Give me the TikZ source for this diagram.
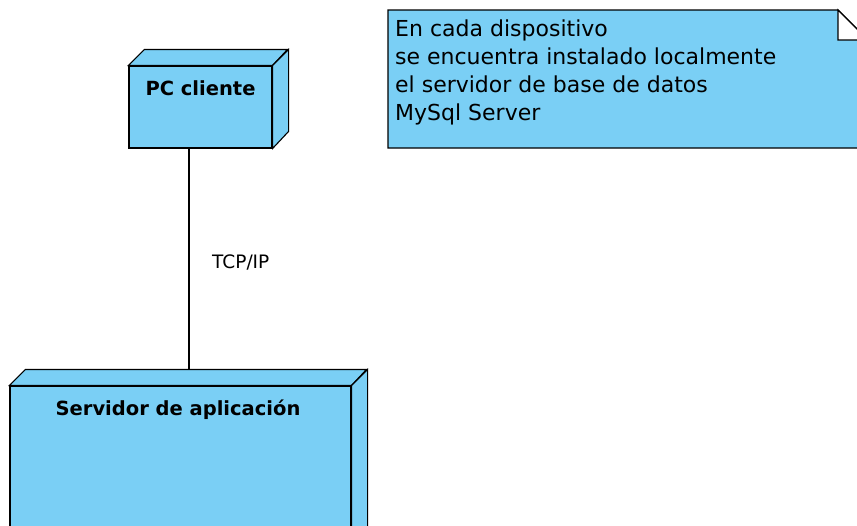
\documentclass[tikz,border=0pt]{standalone}
\usepackage{fontspec}
\setmainfont{DejaVu Sans}
\usetikzlibrary{positioning}
\definecolor{nodoazul}{RGB}{122,207,245}
\tikzset{
  caja/.style={draw=black, fill=nodoazul, line width=1.1pt, line join=miter},
  nodo/.style={caja, rectangle, inner sep=0pt},
  titulo/.style={inner sep=0pt, font=\bfseries\fontsize{19.5}{23}\selectfont},
  etiqueta/.style={inner sep=0pt, font=\fontsize{18.5}{22}\selectfont},
  notatexto/.style={inner sep=0pt, align=left, font=\fontsize{22}{27.7}\selectfont}
}
\begin{document}
\begin{tikzpicture}[x=1pt, y=-1pt]
  \useasboundingbox (0,0) rectangle (857,525);
  \clip (0,0) rectangle (857,525);
  % nodos
  \node[nodo, minimum width=143pt, minimum height=82pt] (pc) at (200.5,107) {};
  \node[nodo, minimum width=341pt, minimum height=160pt] (srv) at (180.5,466) {};
  \draw[caja] (pc.north west) -- ++(16,-16) -- ++(143,0) -- (pc.north east) -- cycle;
  \draw[caja] (pc.north east) -- ++(16,-16) -- ++(0,82) -- (pc.south east) -- cycle;
  \draw[caja] (srv.north west) -- ++(16,-16) -- ++(341,0) -- (srv.north east) -- cycle;
  \draw[caja] (srv.north east) -- ++(16,-16) -- ++(0,160) -- (srv.south east) -- cycle;
  \node[titulo, anchor=base] (pctit) at (200.5,95) {PC cliente};
  \node[titulo, anchor=base] (srvtit) at (178,415) {Servidor de aplicación};
  % conexion
  \coordinate (srvtop) at ([yshift=16pt]srv.north);
  \draw[line width=1.2pt] ([xshift=-11.5pt]pc.south) -- ([xshift=-11.5pt]pc.south |- srvtop);
  \node[etiqueta, anchor=base west] (tcp) at (212,268) {TCP/IP};
  % nota
  \coordinate (nota) at (388,10);
  \draw[caja] (nota) -- ++(450,0) -- ++(30,30) -- ++(0,108) -- ++(-480,0) -- cycle;
  \draw[caja, fill=white] ([xshift=450pt]nota) -- ++(0,30) -- ++(30,0) -- cycle;
  \node[notatexto, anchor=base west] (notatxt) at (395,120)
    {En cada dispositivo\\se encuentra instalado localmente\\el servidor de base de datos\\MySql Server};
\end{tikzpicture}
\end{document}
